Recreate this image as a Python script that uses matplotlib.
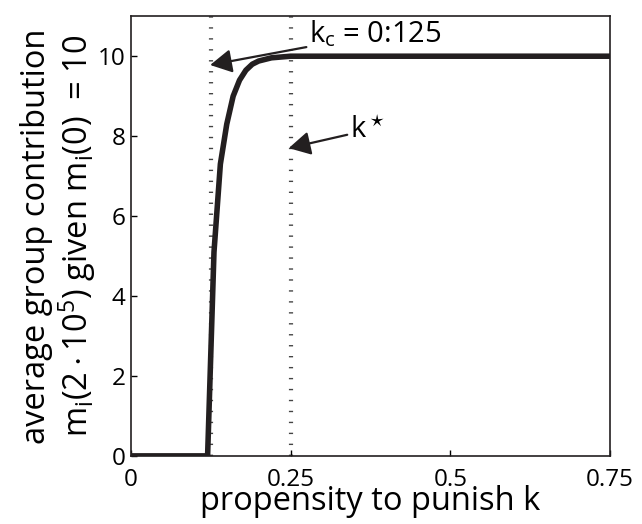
import numpy as np
import matplotlib
matplotlib.use('Agg')
from matplotlib import pyplot as plt

plt.rcParams['font.family'] = ['Open Sans', 'DejaVu Sans']
plt.rcParams['mathtext.fontset'] = 'custom'
plt.rcParams['mathtext.rm'] = 'Open Sans'
plt.rcParams['mathtext.it'] = 'Open Sans'

# propensity to punish k vs average group contribution
k = [0.0, 0.12, 0.13, 0.14, 0.15, 0.16, 0.17, 0.18, 0.19, 0.20, 0.22, 0.25, 0.30, 0.40, 0.50, 0.60, 0.75]
m = [0.0, 0.0, 5.1, 7.3, 8.3, 9.0, 9.4, 9.65, 9.8, 9.88, 9.96, 10.0, 10.0, 10.0, 10.0, 10.0, 10.0]

k_c = 0.125
k_star = 0.25

xticks = [0, 0.25, 0.5, 0.75]
xticklabels = ['0', '0.25', '0.5', '0.75']
yticks = [0, 2, 4, 6, 8, 10]

fig = plt.figure(figsize=(6.42, 5.24), dpi=100)
ax = fig.add_axes([0.204, 0.130, 0.746, 0.839])

for kv in (k_c, k_star):
    ax.plot([kv, kv], [0, 11], color='#444444', lw=3, dashes=(0.33, 2.3),
            dash_capstyle='butt', solid_capstyle='butt', zorder=1)

ax.plot(k, m, color='#231f20', lw=4, solid_joinstyle='round', zorder=3)

arrow = dict(arrowstyle='-|>,head_length=0.55,head_width=0.3', color='#231f20',
             lw=1.6, mutation_scale=24, shrinkA=0, shrinkB=0)
ax.annotate(r'$\mathregular{k_c}$ = 0:125', xy=(0.124, 9.78), xytext=(0.279, 10.55),
            fontsize=21, va='center', ha='left', arrowprops=arrow)
ax.annotate(r'$\mathregular{k^\star}$', xy=(0.247, 7.7), xytext=(0.343, 8.15),
            fontsize=21, va='center', ha='left', arrowprops=arrow)

ax.set_xlim(0, 0.75)
ax.set_ylim(0, 11)
ax.set_xticks(xticks)
ax.set_xticklabels(xticklabels)
ax.set_yticks(yticks)
ax.tick_params(direction='in', length=4, width=1, labelsize=17.5)
ax.tick_params(axis='x', pad=9)
ax.tick_params(axis='y', pad=4)
for s in ax.spines.values():
    s.set_linewidth(1.2)
    s.set_color('#231f20')

ax.set_xlabel('propensity to punish k', fontsize=23.5, labelpad=-5)
ax.set_ylabel('average group contribution\n'
              r'$\mathregular{m_i(2\cdot10^5)}$ given $\mathregular{m_i(0)}$  = 10',
              fontsize=23.5, linespacing=1.1)
ax.yaxis.set_label_coords(-0.068, 0.5)

fig.savefig('out.png', dpi=100)
